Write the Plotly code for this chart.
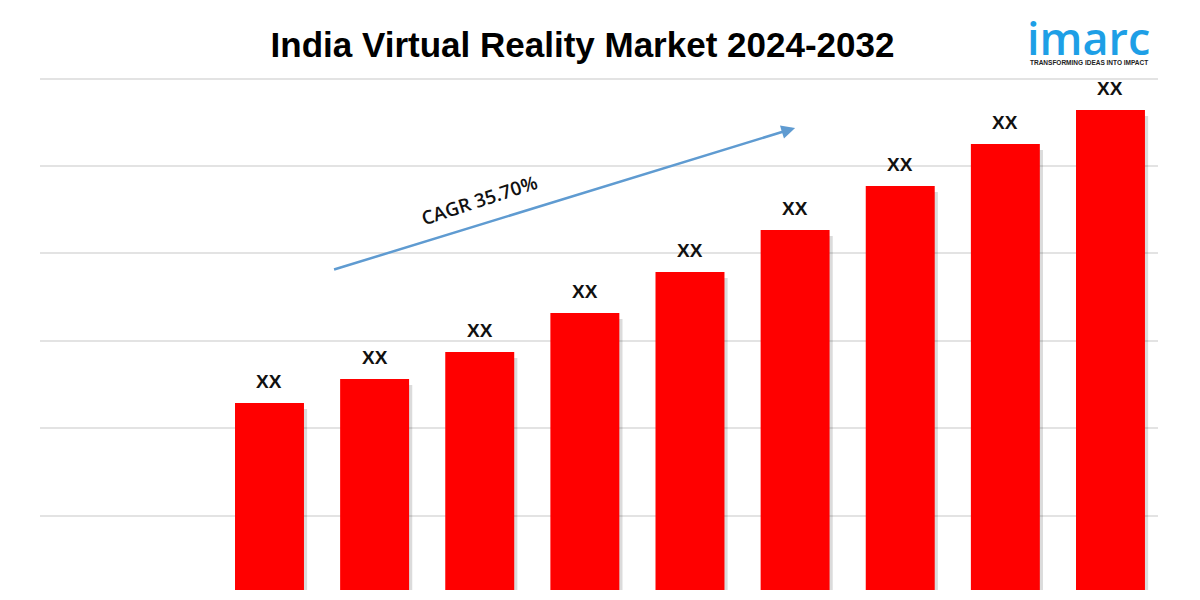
import plotly.graph_objects as go

# ---- data ----
years = ["2024", "2025", "2026", "2027", "2028", "2029", "2030", "2031", "2032"]
values = [187, 211, 238, 277, 318, 360, 404, 446, 480]
bar_labels = ["XX"] * 9
grid_ticks = [74, 162, 249, 337, 424, 511]
title_text = "India Virtual Reality Market 2024-2032"
cagr_text = "CAGR 35.70%"

# layout geometry (page body has an 8px default margin)
OFF = 8
W, H = 1200 - OFF, 600 - OFF
L, R, T, B = 40 - OFF, 42, 73 - OFF, 10
plot_w = W - L - R
plot_h = H - T - B
Y_TOP = plot_h  # 1 data unit = 1 px

def px_x(sx):
    return (sx - OFF - L) / plot_w

def px_y(sy):
    return (H - B - (sy - OFF)) / plot_h

fig = go.Figure()

# shadow
fig.add_trace(go.Bar(
    x=list(range(len(years))), y=[v - 3 for v in values], base=-3,
    width=0.656, offset=-0.328 + 0.03,
    marker=dict(color="rgba(0,0,0,0.14)", line=dict(width=0)),
    hoverinfo="skip", showlegend=False,
))
# bars
fig.add_trace(go.Bar(
    x=list(range(len(years))), y=values,
    width=0.656,
    marker=dict(color="#ff0000", line=dict(width=0)),
    showlegend=False,
))

annotations = []
for i, (v, t) in enumerate(zip(values, bar_labels)):
    annotations.append(dict(
        x=i, y=v, xref="x", yref="y", text=t, showarrow=False,
        yanchor="bottom", yshift=9,
        font=dict(family="Liberation Sans", size=19, color="#111111", weight="bold"),
    ))

# CAGR arrow
annotations.append(dict(
    x=5.0, y=462, ax=0.6, ay=320, xref="x", yref="y", axref="x", ayref="y",
    text="", showarrow=True, arrowhead=2, arrowsize=1.1, arrowwidth=2.5,
    arrowcolor="#5f9bd1",
))
annotations.append(dict(
    x=2.0, y=390, xref="x", yref="y", text=cagr_text, showarrow=False,
    textangle=-18,
    font=dict(family="Open Sans", size=19, color="#111111", weight=600),
))

# logo
annotations.append(dict(
    x=px_x(1088), y=px_y(37), xref="paper", yref="paper", text="imarc",
    showarrow=False, xanchor="center", yanchor="middle",
    font=dict(family="Open Sans", size=45, color="#1e9fe6", weight=600),
))
annotations.append(dict(
    x=px_x(1089), y=px_y(62), xref="paper", yref="paper",
    text="<b>TRANSFORMING IDEAS INTO IMPACT</b>",
    showarrow=False, xanchor="center", yanchor="middle",
    font=dict(family="Liberation Sans", size=6.5, color="#222222"),
))

fig.update_layout(
    width=W, height=H,
    margin=dict(l=L, r=R, t=T, b=B),
    paper_bgcolor="#ffffff", plot_bgcolor="#ffffff",
    bargap=0.344,
    barmode="overlay",
    title=dict(
        text="<b>" + title_text + "</b>",
        x=(582.5 - OFF) / W, xanchor="center", y=1 - (45 - OFF) / H, yanchor="middle",
        font=dict(family="Liberation Sans", size=35, color="#000000"),
    ),
    annotations=annotations,
    shapes=[
        dict(type="rect", xref="paper", yref="paper",
             x0=px_x(1197), x1=px_x(1201), y0=px_y(601), y1=px_y(-1),
             fillcolor="#f4f4f4", line=dict(width=0), layer="below"),
        dict(type="line", xref="paper", yref="paper",
             x0=px_x(1197), x1=px_x(1197), y0=px_y(601), y1=px_y(-1),
             line=dict(color="#d8d8d8", width=1.5)),
    ],
    font=dict(family="Liberation Sans"),
)

fig.update_xaxes(
    range=[-2.183, 8.452],
    tickvals=list(range(len(years))), ticktext=years,
    showgrid=False, zeroline=False, showline=False, ticks="",
    tickfont=dict(family="Liberation Sans", size=16, color="#111111", weight="bold"),
    ticklabelstandoff=7,
    automargin=False,
)
fig.update_yaxes(
    range=[0, Y_TOP],
    tickvals=grid_ticks, showticklabels=False,
    showgrid=True, gridcolor="#e3e3e3", gridwidth=1.5,
    zeroline=False, showline=False, ticks="",
    automargin=False,
)

fig.write_html("out.html")
